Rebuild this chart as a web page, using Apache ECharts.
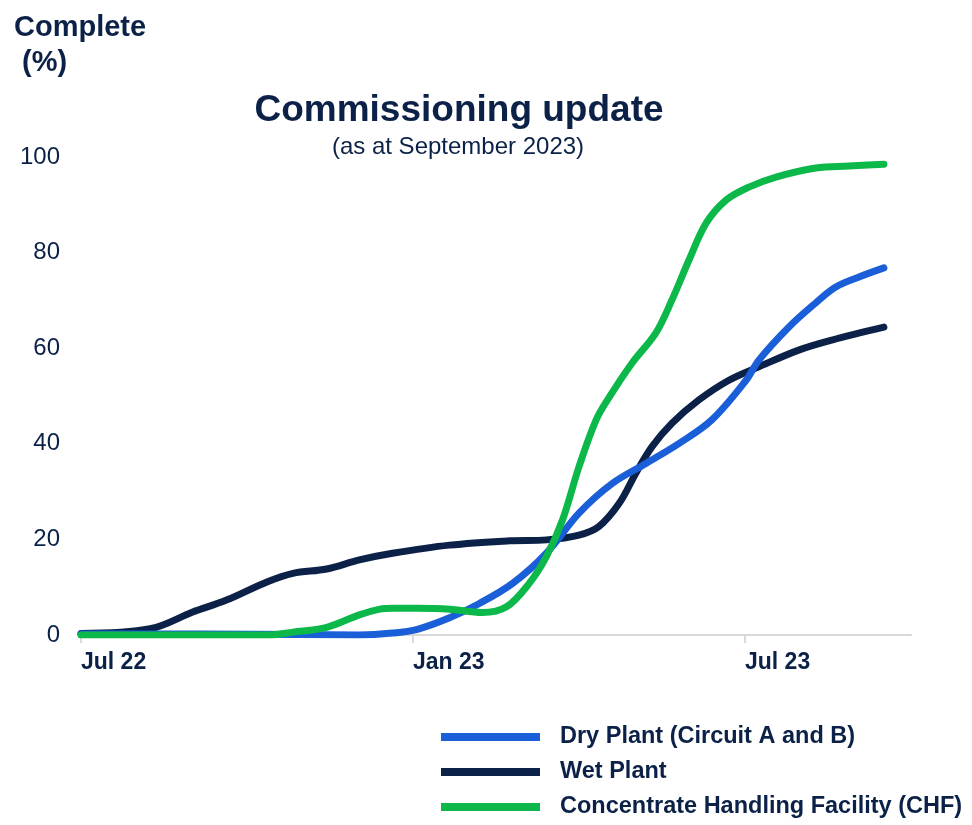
<!DOCTYPE html>
<html>
<head>
<meta charset="utf-8">
<script src="https://cdn.jsdelivr.net/npm/echarts@6.0.0/dist/echarts.min.js"></script>
<style>
  html, body { margin: 0; padding: 0; background: #fff; }
  #chart { width: 972px; height: 825px; }
</style>
</head>
<body>
<div id="chart"></div>
<script>
// months counted from Jul 22 (0 = Jul 22, 6 = Jan 23, 12 = Jul 23)
var tickMonths = [0, 6, 12];
var tickLabels = ['Jul 22', 'Jan 23', 'Jul 23'];

var seriesNames = ['Dry Plant (Circuit A and B)', 'Wet Plant', 'Concentrate Handling Facility (CHF)'];

var dryMonths = [0, 2.15, 3.95, 5.03, 5.63, 6.08, 6.66, 7.2, 7.8, 8.41, 9.0, 9.6, 10.21, 10.81, 11.4, 12.02, 12.25, 12.79, 13.28, 13.64, 14.06, 14.51];
var dryValues = [0.2, 0.2, 0.1, 0, 0.4, 1.2, 3.6, 6.6, 10.8, 17.1, 25.5, 31.7, 35.9, 40.1, 45, 53.3, 57.5, 64.4, 69.5, 72.8, 74.9, 76.8];

var wetMonths = [0, 1.25, 2.02, 2.63, 3.36, 3.83, 4.44, 5.03, 5.63, 6.66, 7.74, 8.41, 9.0, 9.36, 9.73, 10.03, 10.32, 10.68, 11.17, 11.71, 12.25, 12.97, 13.57, 14.51];
var wetValues = [0.3, 1.3, 4.8, 7.3, 11.1, 12.9, 13.8, 15.7, 17.1, 18.8, 19.7, 19.9, 20.9, 22.7, 27.6, 33.9, 39.4, 44.3, 49.2, 53.3, 56.1, 59.6, 61.7, 64.4];

var chfMonths = [0, 3.36, 3.83, 4.44, 5.03, 5.4, 5.63, 6.08, 6.66, 7.25, 7.69, 8.1, 8.41, 8.7, 9.0, 9.31, 9.55, 9.96, 10.39, 10.68, 10.99, 11.3, 11.66, 12.07, 12.56, 13.28, 13.88, 14.51];
var chfValues = [0, 0, 0.6, 1.6, 4.2, 5.4, 5.6, 5.6, 5.4, 4.7, 5.9, 10.8, 16.4, 24, 35.2, 45, 49.8, 56.9, 63.2, 70.1, 78.5, 86.2, 91, 93.7, 95.8, 97.7, 98.1, 98.5];

var navy = '#0b2147';
var blue = '#1a5fd8';
var green = '#0db84b';

function pairs(xs, ys) {
	var out = [];
	for (var i = 0; i < xs.length; i++) {
		out.push([xs[i], ys[i]]);
	}
	return out;
}

function lineSeries(name, data, color) {
	return {
		name: name,
		type: 'line',
		data: data,
		smooth: 0.35,
		showSymbol: false,
		symbol: 'none',
		lineStyle: { width: 7, color: color, cap: 'round', join: 'round' },
		itemStyle: { color: color }
	};
}

var myChart = echarts.init(document.getElementById('chart'));
var option = {
	animation: false,
	backgroundColor: '#fff',
	textStyle: { fontFamily: 'Liberation Sans, Arial, sans-serif', color: navy },
	title: [
		{
			text: 'Commissioning update',
			left: 454, top: 87, textAlign: 'center',
			textStyle: { fontSize: 37, fontWeight: 'bold', color: navy, fontFamily: 'Liberation Sans' }
		},
		{
			text: '(as at September 2023)',
			left: 453, top: 130, textAlign: 'center',
			textStyle: { fontSize: 24, fontWeight: 'normal', color: navy, fontFamily: 'Liberation Sans' }
		},
		{
			text: 'Complete\n (%)',
			left: 9, top: 5,
			textStyle: { fontSize: 29, fontWeight: 'bold', lineHeight: 35, color: navy, fontFamily: 'Liberation Sans' }
		}
	],
	legend: {
		orient: 'vertical',
		left: 441, top: 725,
		padding: 0,
		icon: 'rect',
		itemWidth: 99, itemHeight: 8,
		itemGap: 11,
		data: seriesNames,
		textStyle: { fontSize: 23.5, fontWeight: 'bold', color: navy, lineHeight: 24, padding: [0, 0, 0, 15], fontFamily: 'Liberation Sans' }
	},
	grid: { left: 81, right: 61, top: 157, bottom: 190 },
	xAxis: {
		type: 'value',
		min: 0, max: 15,
		splitLine: { show: false },
		axisLine: { show: true, lineStyle: { color: '#d9d9d9', width: 2 } },
		axisTick: { show: true, customValues: tickMonths, length: 8, lineStyle: { color: '#d9d9d9', width: 2 } },
		axisLabel: {
			customValues: tickMonths,
			formatter: function (v) {
				var i = tickMonths.indexOf(v);
				return i >= 0 ? tickLabels[i] : '';
			},
			align: 'left',
			margin: 16,
			fontSize: 23, fontWeight: 'bold', color: navy, fontFamily: 'Liberation Sans'
		}
	},
	yAxis: {
		type: 'value',
		min: 0, max: 100, interval: 20,
		splitLine: { show: false },
		axisLine: { show: false },
		axisTick: { show: false },
		axisLabel: { margin: 21, fontSize: 24, color: navy, fontFamily: 'Liberation Sans' }
	},
	series: [
		lineSeries(seriesNames[1], pairs(wetMonths, wetValues), navy),
		lineSeries(seriesNames[0], pairs(dryMonths, dryValues), blue),
		lineSeries(seriesNames[2], pairs(chfMonths, chfValues), green)
	]
};
myChart.setOption(option);
</script>
</body>
</html>
